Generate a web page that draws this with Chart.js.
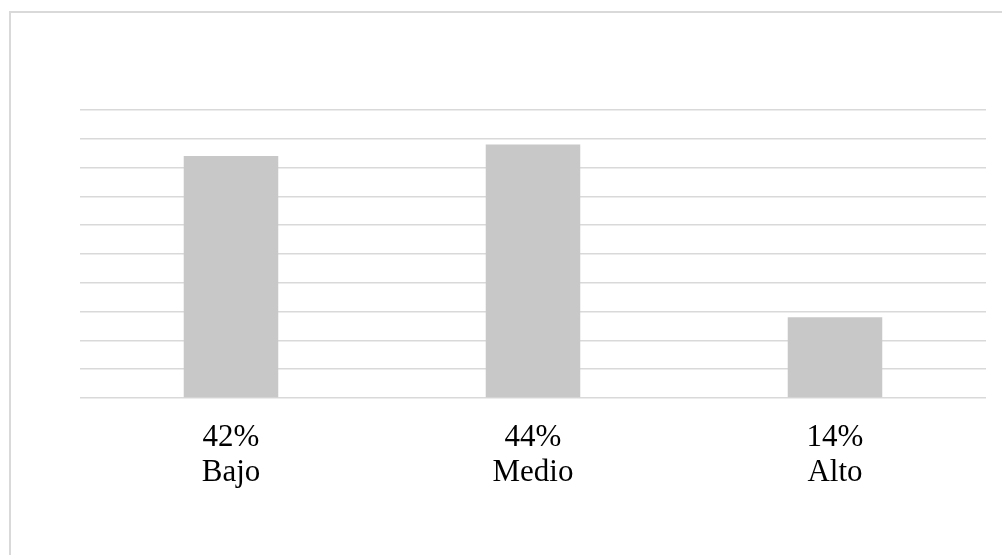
<!DOCTYPE html>
<html>
<head>
<meta charset="utf-8">
<script src="https://cdn.jsdelivr.net/npm/chart.js@4"></script>
<style>
  html, body { margin: 0; padding: 0; background: #fff; overflow: hidden; }
  #wrap { position: relative; width: 1002px; height: 555px; }
  #frame {
    position: absolute; left: 9px; top: 11px;
    width: 1010px; height: 560px;
    border: 2px solid #d9d9d9; box-sizing: border-box;
  }
  #chart { position: absolute; left: 0; top: 0; }
</style>
</head>
<body>
<div id="wrap">
  <div id="frame"></div>
  <canvas id="chart" width="1002" height="555"></canvas>
</div>
<script>
// ── Data ─────────────────────────────────────────────
const categories = ['Bajo', 'Medio', 'Alto'];
const percents   = [42, 44, 14];

// ── Chart ────────────────────────────────────────────
const labels = categories.map((c, i) => [percents[i] + '%', c]);

new Chart(document.getElementById('chart'), {
    type: 'bar',
    data: {
        labels: labels,
        datasets: [{
            data: percents,
            backgroundColor: '#c8c8c8',
            borderWidth: 0,
            categoryPercentage: 1,
            barPercentage: 0.313,
        }]
    },
    options: {
        responsive: false,
        animation: false,
        layout: { padding: { left: 80, right: 16, top: 110, bottom: 42 } },
        plugins: { legend: { display: false }, tooltip: { enabled: false } },
        scales: {
            y: {
                min: 0,
                max: 50,
                ticks: { display: false, stepSize: 5 },
                border: { display: false },
                grid: { color: '#d9d9d9', lineWidth: 1.5, drawTicks: false }
            },
            x: {
                border: { display: false },
                grid: { display: false, drawTicks: false },
                ticks: {
                    color: '#000',
                    padding: 22,
                    maxRotation: 0,
                    font: { family: "'Liberation Serif', 'Times New Roman', serif", size: 31, lineHeight: 1.145 }
                }
            }
        }
    }
});
</script>
</body>
</html>
